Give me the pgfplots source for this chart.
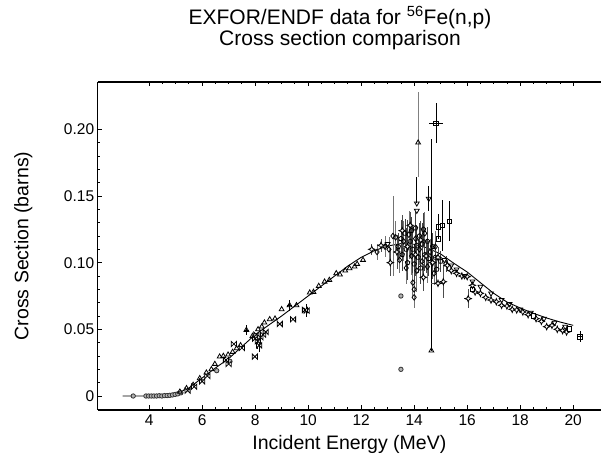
\documentclass[border=0pt]{standalone}
\usepackage{fontspec}
\setmainfont{Liberation Sans}
\usepackage{pgfplots}
\pgfplotsset{compat=1.18}

% sideways bowtie and four-point star marks
\pgfdeclareplotmark{bowtie}{%
  \pgfpathmoveto{\pgfqpoint{-\pgfplotmarksize}{\pgfplotmarksize}}%
  \pgfpathlineto{\pgfqpoint{\pgfplotmarksize}{-\pgfplotmarksize}}%
  \pgfpathlineto{\pgfqpoint{\pgfplotmarksize}{\pgfplotmarksize}}%
  \pgfpathlineto{\pgfqpoint{-\pgfplotmarksize}{-\pgfplotmarksize}}%
  \pgfpathclose
  \pgfusepathqfillstroke}
\pgfdeclareplotmark{fourstar}{%
  \pgfpathmoveto{\pgfqpoint{0pt}{\pgfplotmarksize}}%
  \pgfpathlineto{\pgfqpoint{0.3\pgfplotmarksize}{0.3\pgfplotmarksize}}%
  \pgfpathlineto{\pgfqpoint{\pgfplotmarksize}{0pt}}%
  \pgfpathlineto{\pgfqpoint{0.3\pgfplotmarksize}{-0.3\pgfplotmarksize}}%
  \pgfpathlineto{\pgfqpoint{0pt}{-\pgfplotmarksize}}%
  \pgfpathlineto{\pgfqpoint{-0.3\pgfplotmarksize}{-0.3\pgfplotmarksize}}%
  \pgfpathlineto{\pgfqpoint{-\pgfplotmarksize}{0pt}}%
  \pgfpathlineto{\pgfqpoint{-0.3\pgfplotmarksize}{0.3\pgfplotmarksize}}%
  \pgfpathclose
  \pgfusepathqfillstroke}

\begin{document}
\begin{tikzpicture}
\useasboundingbox (0,0) rectangle (601pt,454pt);
\begin{axis}[
  at={(97.7pt,44pt)}, anchor=south west,
  scale only axis, width=503.3pt, height=328pt,
  xmin=2.06, xmax=21.05, ymin=-0.0105, ymax=0.2355,
  axis x line*=box, axis y line*=left,
  axis line style={-, line width=1.1pt},
  tick align=inside,
  major tick length=4.5pt, minor tick length=2.5pt,
  every tick/.style={black, line width=0.8pt},
  xtick={4,6,...,20}, xticklabels={4,6,8,10,12,14,16,18,20},
  minor x tick num=3,
  ytick={0,0.05,0.1,0.15,0.2}, yticklabels={0,0.05,0.10,0.15,0.20},
  minor y tick num=4,
  /pgf/number format/assume math mode=true,
  tick label style={font=\fontsize{15.5}{18}\selectfont},
  xticklabel style={yshift=-1pt},
  xlabel={Incident Energy (MeV)},
  ylabel={Cross Section (barns)},
  label style={font=\fontsize{19.5}{22}\selectfont},
  xlabel style={at={(axis description cs:0.5,-0.121)}, anchor=base},
  ylabel style={at={(axis description cs:-0.1379,0.5)}, anchor=base},
  title={EXFOR/ENDF data for \textsuperscript{56}Fe(n,p)\\Cross section comparison},
  title style={at={(axis description cs:0.4814,1.0787)}, anchor=south,
    align=center, inner sep=0pt, font=\fontsize{21}{21.6}\selectfont},
  every axis plot/.append style={line width=0.8pt},
  mark size=2.8pt,
  error bars/error bar style={line width=0.7pt},
]

% evaluated curve
\addplot[black, line width=0.9pt, no marks] coordinates {
(3.0,0)(3.5,0)(4.0,0)(4.5,0.0003)(5.0,0.0015)(5.5,0.006)(6.0,0.0135)
(6.5,0.021)(7.0,0.028)(7.5,0.037)(8.0,0.046)(8.5,0.053)(9.0,0.060)
(9.5,0.0675)(10.0,0.075)(10.5,0.0825)(11.0,0.090)(11.5,0.0975)
(12.0,0.104)(12.5,0.109)(13.0,0.1125)(13.5,0.1143)(14.0,0.1138)
(14.5,0.111)(15.0,0.1065)(15.5,0.0995)(16.0,0.093)(16.5,0.085)
(17.0,0.077)(17.5,0.0705)(18.0,0.066)(18.5,0.062)(19.0,0.0585)
(19.5,0.0555)(20.0,0.053)};

% threshold points, filled circles
\addplot[only marks, mark=*, mark size=2.2pt,
  mark options={fill=gray!60, draw=black!80}] coordinates {
(3.40,0)(3.88,0)(3.98,0)(4.08,0)(4.18,0)(4.28,0)(4.38,0.0002)(4.48,0)
(4.58,0.0003)(4.68,0.0003)(4.78,0.0005)(4.88,0.0008)(4.98,0.0012)
(5.08,0.0016)(5.2,0.0024)(6.55,0.019)(7.05,0.026)
(13.5,0.075)(13.5,0.020)};

% rising side, triangles
\addplot[only marks, mark=triangle, mark options={fill=white, draw=black},
  error bars/.cd, x dir=both, x explicit, y dir=both, y explicit,
  error mark=none, error bar style={black}] coordinates {
(5.16,0.0032)(5.41,0.0058)(5.66,0.0083)(5.91,0.0133)(6.16,0.0175)
(6.35,0.020)(6.48,0.024)(6.66,0.0295)(6.8,0.030)(6.98,0.031)
(7.15,0.033)(7.3,0.0357)(7.45,0.038)
(7.67,0.0495) +- (0.08,0.004)
(7.9,0.045)(8.11,0.050)(8.25,0.052)(8.35,0.055)(8.55,0.0575)(8.75,0.058)
(9.0,0.065)
(9.3,0.068) +- (0.1,0.004)
(9.56,0.068)(10.06,0.0775)(10.2,0.078)(10.4,0.0825)(10.62,0.0857)
(10.8,0.087)(11.06,0.092)(11.2,0.091)(11.4,0.094)(11.56,0.0958)
(11.75,0.097)(11.85,0.099)(12.07,0.102)
(14.65,0.034) += (0,0.1585) -= (0,0)};

% big outlier with grey bar
\addplot[only marks, mark=triangle, mark options={fill=white, draw=black},
  error bars/.cd, y dir=both, y explicit,
  error mark=none, error bar style={gray}] coordinates {
(14.15,0.190) += (0,0.038) -= (0,0.026)};

% below the curve, bowties
\addplot[only marks, mark=bowtie, mark size=2.6pt,
  mark options={fill=white, draw=black},
  error bars/.cd, x dir=both, x explicit, y dir=both, y explicit,
  error mark=none, error bar style={black}] coordinates {
(5.45,0.004)(5.7,0.007)(6.0,0.011)(6.2,0.015)(6.9,0.027)(7.0,0.024)
(7.2,0.039)(7.5,0.036)(7.99,0.0295)
(8.0,0.043)(8.05,0.046)
(8.1,0.041) +- (0,0.006)
(8.15,0.038) +- (0,0.005)
(8.2,0.044)(8.3,0.046)(8.4,0.048)(8.93,0.054)(9.43,0.0575)
(9.94,0.064) +- (0.1,0.005)
(9.88,0.0645)};

% peak cluster, diamonds
\addplot[only marks, mark=diamond, mark options={fill=white, draw=black},
  error bars/.cd, y dir=both, y explicit,
  error mark=none, error bar style={black!55}] coordinates {
(12.6,0.108) +- (0,0.006)
(12.9,0.112) +- (0,0.008)
(13.05,0.110) +- (0,0.009)
(13.3,0.119) +- (0,0.012)
(13.45,0.102) +- (0,0.010)
(13.6,0.116) +- (0,0.015)
(13.7,0.096) +- (0,0.012)
(13.8,0.121) +- (0,0.018)
(13.9,0.105) +- (0,0.014)
(13.95,0.085) +- (0,0.010)
(14.0,0.074) +- (0,0.008)
(14.0,0.080) +- (0,0.006)
(14.05,0.118) +- (0,0.020)
(14.1,0.094) +- (0,0.016)
(14.2,0.110) +- (0,0.012)
(14.3,0.101) +- (0,0.014)
(14.4,0.122) +- (0,0.016)
(14.5,0.097) +- (0,0.012)
(14.6,0.108) +- (0,0.010)
(14.75,0.092) +- (0,0.009)
(14.8,0.112) +- (0,0.012)
(13.2,0.120) +- (0,0.030)};

% dense peak measurements, pentagons
\addplot[only marks, mark=pentagon, mark size=2.4pt,
  mark options={fill=white, draw=black},
  error bars/.cd, y dir=both, y explicit,
  error mark=none, error bar style={black!75}] coordinates {
(13.4,0.112) +- (0,0.010)
(13.5,0.118) +- (0,0.014)
(13.55,0.106) +- (0,0.012)
(13.65,0.122) +- (0,0.011)
(13.7,0.110) +- (0,0.016)
(13.75,0.100) +- (0,0.013)
(13.85,0.116) +- (0,0.012)
(13.9,0.124) +- (0,0.010)
(13.95,0.110) +- (0,0.018)
(14.0,0.099) +- (0,0.014)
(14.05,0.126) +- (0,0.012)
(14.1,0.113) +- (0,0.015)
(14.15,0.104) +- (0,0.012)
(14.2,0.120) +- (0,0.010)
(14.25,0.096) +- (0,0.012)
(14.3,0.114) +- (0,0.016)
(14.35,0.125) +- (0,0.012)
(14.4,0.106) +- (0,0.012)
(14.5,0.116) +- (0,0.011)
(14.55,0.103) +- (0,0.013)
(14.7,0.112) +- (0,0.010)
(14.8,0.104) +- (0,0.012)
(14.85,0.095) +- (0,0.010)
(15.0,0.101) +- (0,0.008)
(15.2,0.099) +- (0,0.006)};

% peak and falling side, four-point stars
\addplot[only marks, mark=fourstar, mark size=3.2pt,
  mark options={fill=white, draw=black},
  error bars/.cd, x dir=both, x explicit, y dir=both, y explicit,
  error mark=none, error bar style={black!70}] coordinates {
(12.4,0.110) +- (0,0.004)
(12.75,0.113) +- (0,0.005)
(13.1,0.100) +- (0,0.010)
(13.35,0.108) +- (0,0.013)
(13.55,0.124) +- (0,0.012)
(13.75,0.112) +- (0,0.020)
(13.85,0.128) +- (0,0.010)
(14.05,0.106) +- (0,0.016)
(14.25,0.117) +- (0,0.014)
(14.35,0.089) +- (0,0.010)
(14.45,0.105) +- (0,0.013)
(14.7,0.100) +- (0,0.012)
(14.9,0.104) +- (0,0.008)
(14.9,0.0845) +- (0.28,0)
(15.1,0.0857) +- (0,0.0125)
(15.25,0.098) +- (0,0.004)
(15.4,0.094) +- (0,0)
(15.6,0.092) +- (0,0)
(15.8,0.090) +- (0,0)
(16.0,0.0895) +- (0,0)
(16.04,0.073) +- (0.15,0.007)
(16.2,0.083) +- (0,0)
(16.3,0.078) +- (0,0)
(16.5,0.077) +- (0,0)
(16.7,0.074) +- (0,0)
(16.9,0.072) +- (0,0)
(17.1,0.0707) +- (0,0)
(17.3,0.068) +- (0,0)
(17.5,0.0675) +- (0,0)
(17.7,0.065) +- (0,0)
(17.87,0.0645) +- (0,0)
(18.1,0.063) +- (0,0)
(18.3,0.061) +- (0,0)
(18.6,0.058) +- (0,0)
(18.8,0.056) +- (0,0)
(19.0,0.052) +- (0,0)
(19.2,0.053) +- (0,0)
(19.4,0.050) +- (0,0)
(19.6,0.049) +- (0,0)
(19.75,0.048) +- (0,0)};

% falling side, triangles down
\addplot[only marks, mark=triangle, mark options={rotate=180, fill=white, draw=black},
  error bars/.cd, y dir=both, y explicit,
  error mark=none, error bar style={black}] coordinates {
(14.55,0.148) +- (0,0.0095)
(14.1,0.1445) += (0,0.02) -= (0,0)
(14.1,0.139) +- (0,0)
(13.0,0.114) +- (0,0)
(15.14,0.102) +- (0,0)
(15.4,0.098) +- (0,0)
(15.6,0.095) +- (0,0)
(15.9,0.090) +- (0,0)
(16.2,0.086) +- (0,0)
(16.5,0.082) +- (0,0)
(16.9,0.077) +- (0,0)
(17.3,0.072) +- (0,0)
(17.6,0.069) +- (0,0)
(18.0,0.065) +- (0,0)
(18.4,0.0625) +- (0,0)
(18.9,0.058) +- (0,0)
(19.3,0.055) +- (0,0)
(19.7,0.052) +- (0,0)};

% squares with bars
\addplot[only marks, mark=square, mark size=2.3pt,
  mark options={fill=white, draw=black},
  error bars/.cd, x dir=both, x explicit, y dir=both, y explicit,
  error mark=none, error bar style={black}] coordinates {
(14.82,0.2045) +- (0.25,0.015)
(14.91,0.127) +- (0,0.0095)
(14.91,0.118) +- (0,0)
(15.06,0.128) +- (0,0.019)
(15.33,0.131) +- (0,0.015)
(16.2,0.080) +- (0,0)
(18.5,0.060) +- (0,0)
(19.85,0.0505) +- (0,0)
(20.26,0.0445) +- (0.12,0.004)};

\end{axis}
\end{tikzpicture}
\end{document}
